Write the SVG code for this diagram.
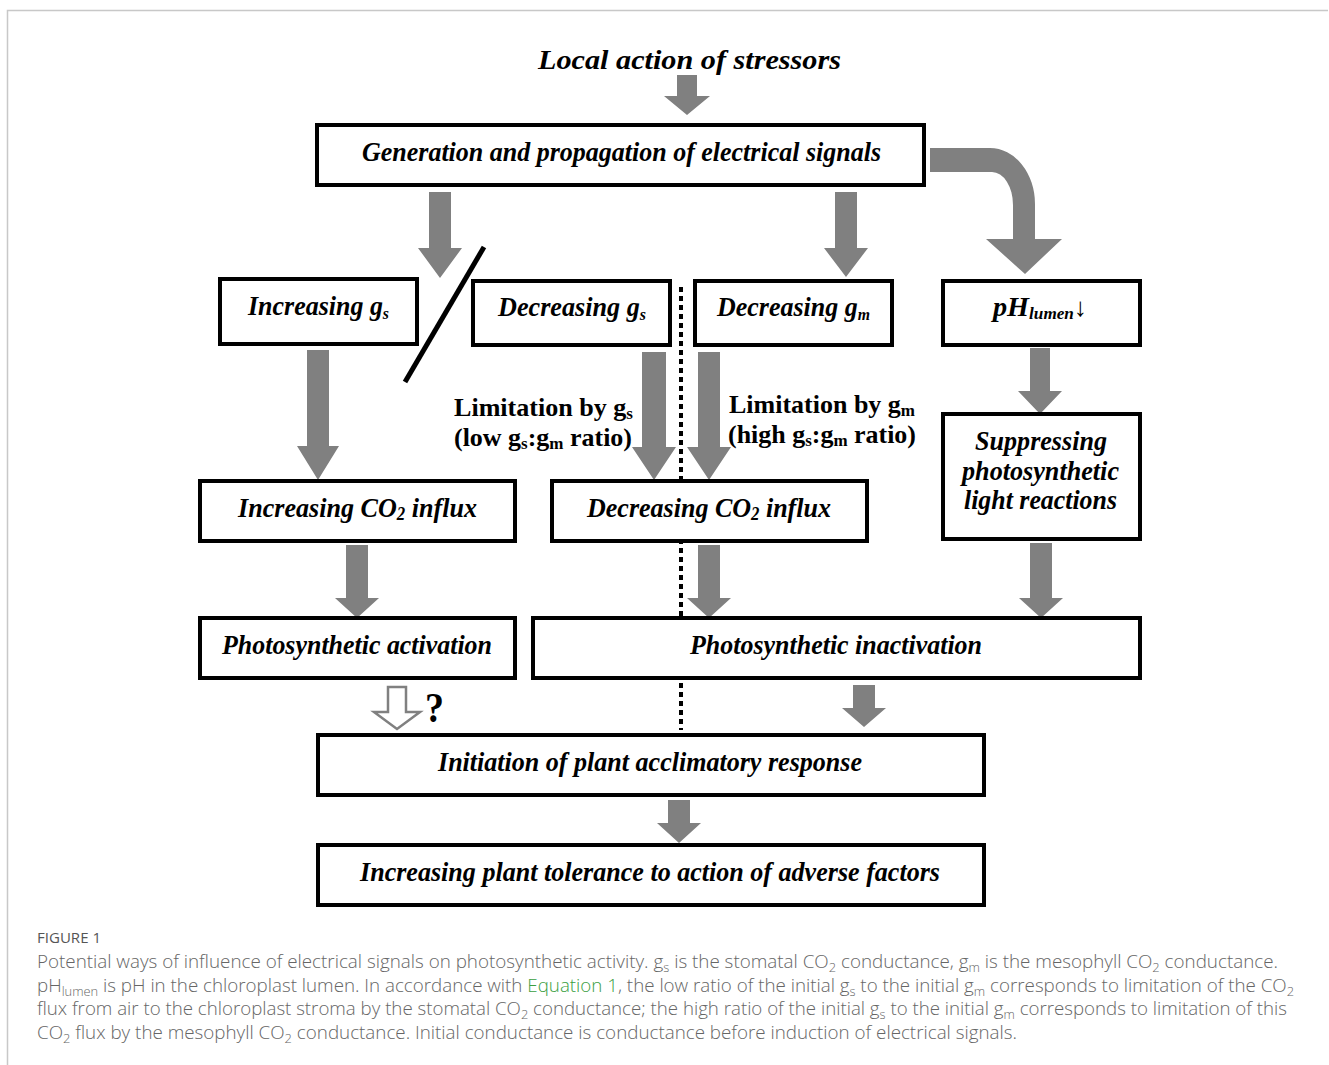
<svg xmlns="http://www.w3.org/2000/svg" width="1329" height="1065" viewBox="0 0 1329 1065">
<style>
.bx{fill:#fff;stroke:#000;stroke-width:4}
.ar{fill:#808080;stroke:none}
.t{font-family:"Liberation Serif","Times New Roman",serif;font-weight:bold;font-style:italic;font-size:28px;fill:#000}
.l{font-family:"Liberation Serif","Times New Roman",serif;font-weight:bold;font-size:26px;fill:#000}
.cap{font-family:"Open Sans","Liberation Sans",sans-serif;font-weight:300;font-size:17.5px;fill:#666}
.fig{font-family:"Open Sans","Liberation Sans",sans-serif;font-size:14px;fill:#555}
</style>
<rect x="0" y="0" width="1329" height="1065" fill="#fff"/>
<path d="M7.5 1065 V10.5 H1328" fill="none" stroke="#c8c8c8" stroke-width="1.5"/>

<text class="t" x="538" y="69" font-size="33" textLength="303" lengthAdjust="spacingAndGlyphs">Local action of stressors</text>

<g id="connectors">
<polygon class="ar" points="677,75 697,75 697,96 710,96 687,115 664,96 677,96"/>
<polygon class="ar" points="429,192 451,192 451,248 462,248 440,278 418,248 429,248"/>
<polygon class="ar" points="835,192 857,192 857,248 868,248 846,277 824,248 835,248"/>
<path class="ar" d="M930 148 H990 A45 56 0 0 1 1035 204 V239 H1062 L1025 274 L986 239 H1013 V205 A21 33 0 0 0 992 172 H930 Z"/>
<line x1="405" y1="382" x2="484" y2="247" stroke="#000" stroke-width="5"/>
<line x1="681" y1="287" x2="681" y2="730" stroke="#000" stroke-width="4" stroke-dasharray="5 4"/>
<polygon class="ar" points="307,350 329,350 329,446 339,446 318,480 297,446 307,446"/>
<polygon class="ar" points="642,352 666,352 666,447 676,447 654,480 632,447 642,447"/>
<polygon class="ar" points="698,352 720,352 720,447 731,447 709,480 687,447 698,447"/>
<polygon class="ar" points="1030,348 1050,348 1050,391 1062,391 1040,414 1018,391 1030,391"/>
<polygon class="ar" points="346,545 368,545 368,598 379,598 357,618 335,598 346,598"/>
<polygon class="ar" points="698,545 720,545 720,598 731,598 709,618 687,598 698,598"/>
<polygon class="ar" points="1030,543 1052,543 1052,598 1063,598 1041,618 1019,598 1030,598"/>
<polygon points="388,687 406,687 406,712 420,712 397,729 374,712 388,712" fill="#fff" stroke="#808080" stroke-width="2.5" stroke-linejoin="miter"/>
<text x="425" y="722" font-family="Liberation Serif,serif" font-weight="bold" font-size="42" fill="#000" textLength="19" lengthAdjust="spacingAndGlyphs">?</text>
<polygon class="ar" points="853,685 875,685 875,708 886,708 864,727 842,708 853,708"/>
<polygon class="ar" points="668,800 690,800 690,823 701,823 679,843 657,823 668,823"/>
</g>

<g id="n-generation">
<rect class="bx" x="317" y="125" width="607" height="60"/>
<text class="t" x="362" y="161" textLength="519" lengthAdjust="spacingAndGlyphs">Generation and propagation of electrical signals</text>
</g>

<g id="n-inc-gs">
<rect class="bx" x="220" y="279" width="197" height="65"/>
<text class="t" x="248" y="315" textLength="141" lengthAdjust="spacingAndGlyphs">Increasing g<tspan font-size="17" dy="4">s</tspan></text>
</g>

<g id="n-dec-gs">
<rect class="bx" x="473" y="281" width="197" height="64"/>
<text class="t" x="498" y="316" textLength="148" lengthAdjust="spacingAndGlyphs">Decreasing g<tspan font-size="17" dy="4">s</tspan></text>
</g>

<g id="n-dec-gm">
<rect class="bx" x="695" y="281" width="197" height="64"/>
<text class="t" x="717" y="316" textLength="153" lengthAdjust="spacingAndGlyphs">Decreasing g<tspan font-size="17" dy="4">m</tspan></text>
</g>

<g id="n-ph">
<rect class="bx" x="943" y="281" width="197" height="64"/>
<text class="t" x="993" y="316" textLength="94" lengthAdjust="spacingAndGlyphs">pH<tspan font-size="17" dy="3">lumen</tspan><tspan dy="-3" font-style="normal" font-size="26">↓</tspan></text>
</g>

<g id="lbl-gs">
<text class="l" x="454" y="416" textLength="179" lengthAdjust="spacingAndGlyphs">Limitation by g<tspan font-size="17" dy="3">s</tspan></text>
<text class="l" x="454" y="446" textLength="178" lengthAdjust="spacingAndGlyphs">(low g<tspan font-size="17" dy="3">s</tspan><tspan dy="-3">:g</tspan><tspan font-size="17" dy="3">m</tspan><tspan dy="-3"> ratio)</tspan></text>
</g>

<g id="lbl-gm">
<text class="l" x="729" y="413" textLength="186" lengthAdjust="spacingAndGlyphs">Limitation by g<tspan font-size="17" dy="3">m</tspan></text>
<text class="l" x="728" y="443" textLength="188" lengthAdjust="spacingAndGlyphs">(high g<tspan font-size="17" dy="3">s</tspan><tspan dy="-3">:g</tspan><tspan font-size="17" dy="3">m</tspan><tspan dy="-3"> ratio)</tspan></text>
</g>

<g id="n-inc-co2">
<rect class="bx" x="200" y="481" width="315" height="60"/>
<text class="t" x="238" y="517" textLength="239" lengthAdjust="spacingAndGlyphs">Increasing CO<tspan font-size="18" dy="3">2</tspan><tspan dy="-3"> influx</tspan></text>
</g>

<g id="n-dec-co2">
<rect class="bx" x="552" y="481" width="315" height="60"/>
<text class="t" x="587" y="517" textLength="244" lengthAdjust="spacingAndGlyphs">Decreasing CO<tspan font-size="18" dy="3">2</tspan><tspan dy="-3"> influx</tspan></text>
</g>

<g id="n-suppress">
<rect class="bx" x="943" y="414" width="197" height="125"/>
<text class="t" x="975" y="450" textLength="132" lengthAdjust="spacingAndGlyphs">Suppressing</text>
<text class="t" x="962" y="480" textLength="157" lengthAdjust="spacingAndGlyphs">photosynthetic</text>
<text class="t" x="964" y="509" textLength="153" lengthAdjust="spacingAndGlyphs">light reactions</text>
</g>

<g id="n-activation">
<rect class="bx" x="200" y="618" width="315" height="60"/>
<text class="t" x="222" y="654" textLength="270" lengthAdjust="spacingAndGlyphs">Photosynthetic activation</text>
</g>

<g id="n-inactivation">
<rect class="bx" x="533" y="618" width="607" height="60"/>
<text class="t" x="690" y="654" textLength="292" lengthAdjust="spacingAndGlyphs">Photosynthetic inactivation</text>
</g>

<g id="n-initiation">
<rect class="bx" x="318" y="735" width="666" height="60"/>
<text class="t" x="438" y="771" textLength="424" lengthAdjust="spacingAndGlyphs">Initiation of plant acclimatory response</text>
</g>

<g id="n-tolerance">
<rect class="bx" x="318" y="845" width="666" height="60"/>
<text class="t" x="360" y="881" textLength="580" lengthAdjust="spacingAndGlyphs">Increasing plant tolerance to action of adverse factors</text>
</g>

<g id="caption">
<text class="fig" x="37" y="943" textLength="64" lengthAdjust="spacingAndGlyphs">FIGURE 1</text>
<text class="cap" x="37" y="968" textLength="1241" lengthAdjust="spacingAndGlyphs">Potential ways of influence of electrical signals on photosynthetic activity. g<tspan font-size="12" dy="4">s</tspan><tspan dy="-4"> is the stomatal CO</tspan><tspan font-size="12" dy="4">2</tspan><tspan dy="-4"> conductance, g</tspan><tspan font-size="12" dy="4">m</tspan><tspan dy="-4"> is the mesophyll CO</tspan><tspan font-size="12" dy="4">2</tspan><tspan dy="-4"> conductance.</tspan></text>
<text class="cap" x="37" y="992" textLength="1257" lengthAdjust="spacingAndGlyphs">pH<tspan font-size="12" dy="4">lumen</tspan><tspan dy="-4"> is pH in the chloroplast lumen. In accordance with </tspan><tspan fill="#3a9e3f">Equation 1</tspan>, the low ratio of the initial g<tspan font-size="12" dy="4">s</tspan><tspan dy="-4"> to the initial g</tspan><tspan font-size="12" dy="4">m</tspan><tspan dy="-4"> corresponds to limitation of the CO</tspan><tspan font-size="12" dy="4">2</tspan></text>
<text class="cap" x="37" y="1015" textLength="1250" lengthAdjust="spacingAndGlyphs">flux from air to the chloroplast stroma by the stomatal CO<tspan font-size="12" dy="4">2</tspan><tspan dy="-4"> conductance; the high ratio of the initial g</tspan><tspan font-size="12" dy="4">s</tspan><tspan dy="-4"> to the initial g</tspan><tspan font-size="12" dy="4">m</tspan><tspan dy="-4"> corresponds to limitation of this</tspan></text>
<text class="cap" x="37" y="1039" textLength="980" lengthAdjust="spacingAndGlyphs">CO<tspan font-size="12" dy="4">2</tspan><tspan dy="-4"> flux by the mesophyll CO</tspan><tspan font-size="12" dy="4">2</tspan><tspan dy="-4"> conductance. Initial conductance is conductance before induction of electrical signals.</tspan></text>
</g>
</svg>
